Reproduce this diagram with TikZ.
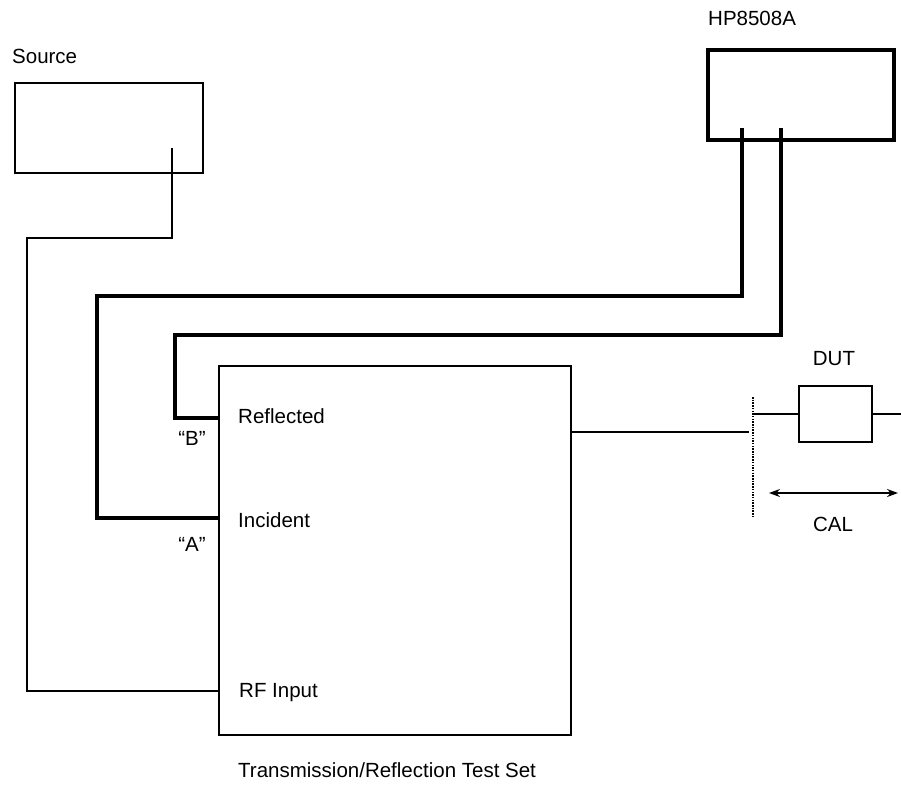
\documentclass[tikz,border=0pt]{standalone}
\usepackage{fontspec}
\setmainfont{Liberation Sans}
\usetikzlibrary{arrows.meta}
\tikzset{
  lbl/.style={inner sep=0pt, font=\fontsize{20.5}{24}\selectfont},
  heavybox/.style={draw, line width=3.5pt, inner sep=0pt},
  srcbox/.style={draw, line width=2pt, inner sep=0pt},
  thinbox/.style={draw, line width=1.5pt, inner sep=0pt},
  cable/.style={line width=3.5pt, line join=miter},
  srccable/.style={line width=2pt},
  wire/.style={line width=1.5pt},
  calplane/.style={line width=1.2pt, dash pattern=on 1.5pt off 1.2pt},
  calarrow/.style={line width=1.6pt, {Stealth[length=11pt,width=8pt]}-{Stealth[length=11pt,width=8pt]}}
}
\begin{document}
\begin{tikzpicture}[x=1pt,y=-1pt]
\useasboundingbox (0,0) rectangle (901,787);

% boxes
\node[srcbox, minimum width=188pt, minimum height=90pt] (src) at (109,128) {};
\node[heavybox, minimum width=186pt, minimum height=90pt] (hp) at (801,95) {};
\node[thinbox, minimum width=352pt, minimum height=369pt] (ts) at (395,550.5) {};
\node[thinbox, line width=1.3pt, minimum width=73pt, minimum height=56pt] (dut) at (835.5,414) {};

% labels
\node[lbl, anchor=base west] (lsrc) at (12,63) {Source};
\node[lbl, anchor=base west] (lhp) at (708,25) {HP8508A};
\node[lbl, anchor=base west] (lrefl) at (238,423) {Reflected};
\node[lbl, anchor=base west] (linc) at (238,527) {Incident};
\node[lbl, anchor=base west] (lrf) at (239,697) {RF Input};
\node[lbl, anchor=base] (lb) at (192,445) {``B''};
\node[lbl, anchor=base] (la) at (192,551) {``A''};
\node[lbl, anchor=base west] (lts) at (238,777) {Transmission/Reflection Test Set};
\node[lbl, anchor=base] (ldut) at (834,365) {DUT};
\node[lbl, anchor=base] (lcal) at (833,531) {CAL};

% connection points
\coordinate (srcport) at (172,148);
\coordinate (s1) at (27,238);
\coordinate (rfin) at (219,691);
\coordinate (portA) at (742,128);
\coordinate (a1) at (97,296);
\coordinate (inc) at (219,518);
\coordinate (portB) at (781,128);
\coordinate (b1) at (175,335);
\coordinate (refl) at (219,418);
\coordinate (tsout) at (571,432);
\coordinate (plane) at (749,432);
\coordinate (calTop) at (753,397);
\coordinate (calBot) at (753,517);
\coordinate (dutin) at (753,414);
\coordinate (dutout) at (901,414);
\coordinate (arrL) at (769,493);
\coordinate (arrR) at (898,493);

% cables
\draw[srccable] (srcport) |- (s1) |- (rfin);
\draw[cable] (portA) |- (a1) |- (inc);
\draw[cable] (portB) |- (b1) |- (refl);

% test port
\draw[wire] (tsout) -- (plane);
\draw[calplane] (calTop) -- (calBot);
\draw[wire] (dutin) -- (dut.west);
\draw[wire] (dut.east) -- (dutout);
\draw[calarrow] (arrL) -- (arrR);
\end{tikzpicture}
\end{document}
